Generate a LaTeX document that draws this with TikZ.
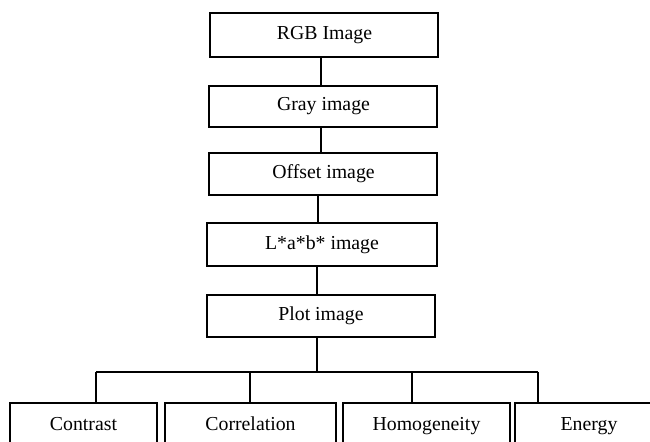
\documentclass[tikz,border=0pt]{standalone}
\usepackage{fontspec}
\setmainfont{Liberation Serif}

\tikzset{
  stage/.style={draw,line width=1pt,minimum width=114pt,minimum height=21pt,inner sep=0pt},
  feature/.style={draw,line width=1pt,anchor=north,inner xsep=0pt,inner ysep=4pt,
    text height=10pt,text depth=30pt},
  link/.style={line width=0.9pt}
}

\begin{document}
\begin{tikzpicture}[x=0.5pt,y=-0.5pt,font=\fontsize{9.9}{12}\selectfont]

  \useasboundingbox (0,0) rectangle (650,442);
  \clip (0,0) rectangle (650,442);

  \node (rgb) at (324.5,35) [stage,minimum height=22pt] {RGB Image};
  \node (gray) at (323.5,106.5) [stage,minimum height=20.5pt] {Gray image};
  \node (offset) at (323.5,174) [stage] {Offset image};
  \node (lab) at (322,244.5) [stage,minimum width=115pt,minimum height=21.5pt] {L*a*b* image};
  \node (plot) at (321,316) [stage] {Plot image};

  \draw[link] (rgb.south -| 321,0) -- (gray.north -| 321,0);
  \draw[link] (gray.south -| 321,0) -- (offset.north -| 321,0);
  \draw[link] (offset.south -| 318,0) -- (lab.north -| 318,0);
  \draw[link] (lab.south -| 317,0) -- (plot.north -| 317,0);

  \node (contrast) at (83.5,402) [feature,minimum width=73.5pt] {Contrast};
  \node (correlation) at (250.5,402) [feature,minimum width=85.5pt] {Correlation};
  \node (homogeneity) at (426.5,402) [feature,minimum width=83.5pt] {Homogeneity};
  \node (energy) at (589,402) [feature,minimum width=74pt] {Energy};

  \coordinate (j1) at (96,372);
  \coordinate (j2) at (250,372);
  \coordinate (j3) at (412,372);
  \coordinate (j4) at (538,372);

  \draw[link] (plot.south -| 317,0) -- (j1 -| 317,0);
  \draw[link] (j1) -- (j4);
  \draw[link] (j1) -- (j1 |- contrast.north);
  \draw[link] (j2) -- (j2 |- correlation.north);
  \draw[link] (j3) -- (j3 |- homogeneity.north);
  \draw[link] (j4) -- (j4 |- energy.north);

\end{tikzpicture}
\end{document}
